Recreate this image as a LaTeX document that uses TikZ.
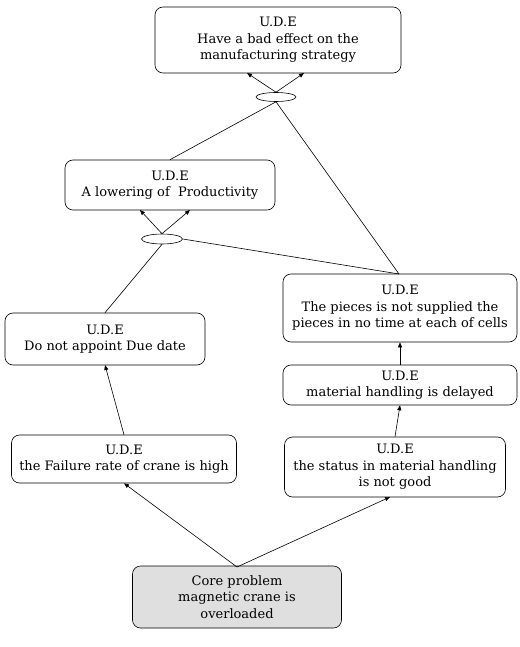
\documentclass[tikz,border=0pt]{standalone}
\usepackage{fontspec}
\setmainfont{DejaVu Serif}
\usetikzlibrary{shapes.geometric,arrows.meta}
\begin{document}
\begin{tikzpicture}[x=1pt,y=-1pt,
  ude/.style={draw,line width=0.6pt,rounded corners=8pt,align=center,inner sep=0pt,font=\fontsize{13}{16.5}\selectfont},
  andnode/.style={draw,line width=0.6pt,ellipse,inner sep=0pt},
  arr/.style={-{Triangle[length=5pt,width=4pt]},line width=0.6pt},
  ln/.style={line width=0.6pt}]
\useasboundingbox (0,0) rectangle (519,647);
\node[ude,minimum width=246pt,minimum height=66pt] (top) at (278,40) {U.D.E\\Have a bad effect on the\\manufacturing strategy};
\node[andnode,minimum width=40pt,minimum height=9pt] (e1) at (276,97) {};
\node[ude,minimum width=210pt,minimum height=50pt] (low) at (170,185) {U.D.E\\A lowering of\ \ Productivity};
\node[andnode,minimum width=41pt,minimum height=10pt] (e2) at (162,239) {};
\node[ude,minimum width=200pt,minimum height=52pt] (due) at (105,339) {U.D.E\\Do not appoint Due date};
\node[ude,minimum width=234pt,minimum height=68pt] (pcs) at (400,308) {U.D.E\\The pieces is not supplied the\\pieces in no time at each of cells};
\node[ude,minimum width=234pt,minimum height=40pt] (mat) at (400,385) {U.D.E\\material handling is delayed};
\node[ude,minimum width=225pt,minimum height=48pt] (fail) at (124,459) {U.D.E\\the Failure rate of crane is high};
\node[ude,minimum width=221pt,minimum height=60pt] (stat) at (395,467) {U.D.E\\the status in material handling\\is not good};
\node[ude,fill=gray!25,minimum width=209pt,minimum height=62pt] (core) at (237,597) {Core problem\\magnetic crane is\\overloaded};
\coordinate (c1) at (237,567);
\coordinate (p1) at (399,274);
\draw[arr] (c1) -- (fail.south);
\draw[arr] (c1) -- (390,497) coordinate (s1);
\draw[arr] (fail.north) -- (105,365);
\draw[arr] (stat.north) -- (mat.south);
\draw[arr] (mat.north) -- (pcs.south);
\draw[ln] (due.north) -- (e2.south);
\draw[ln] (e2.east) -- (p1);
\draw[arr] (e2.north) -- (140,210);
\draw[arr] (e2.north) -- (190,210);
\draw[ln] (low.north) -- (e1.south);
\draw[ln] (e1.south) -- (p1);
\draw[arr] (e1.north) -- (247,73);
\draw[arr] (e1.north) -- (304,73);
\end{tikzpicture}
\end{document}
